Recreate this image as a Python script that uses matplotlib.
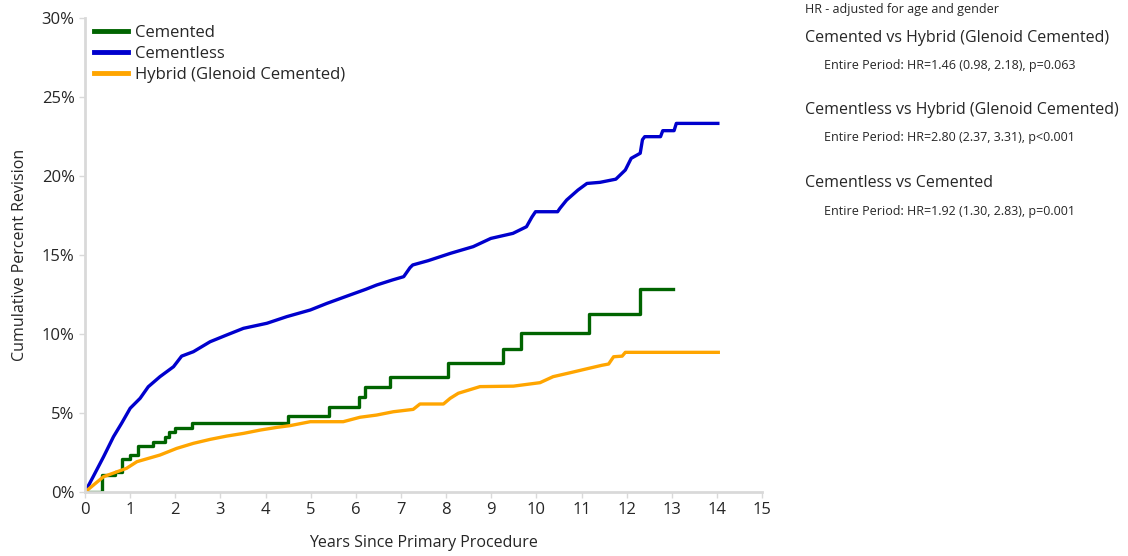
import matplotlib
matplotlib.use("Agg")
import matplotlib.pyplot as plt
from matplotlib.ticker import FuncFormatter

plt.rcParams['font.family'] = ['Open Sans', 'DejaVu Sans']

# Cemented (step function)
cem_x = [0, 0.37, 0.66, 0.81, 1.0, 1.18, 1.51, 1.77, 1.85, 2.0, 2.38, 4.50, 5.41, 6.06, 6.20, 6.76,
         8.05, 9.27, 9.66, 11.17, 12.29, 13.02]
cem_y = [0, 1.07, 1.28, 2.09, 2.34, 2.93, 3.14, 3.50, 3.78, 4.07, 4.35, 4.81, 5.36, 5.99, 6.63, 7.30,
         8.15, 9.07, 10.08, 11.27, 12.85, 12.85]

# Cementless (dense small steps, traced as a polyline)
cl_x = [0, 0.18, 0.41, 0.63, 0.81, 1.0, 1.22, 1.4, 1.66, 1.96, 2.14, 2.4, 2.77, 3.14, 3.51, 4.03,
        4.47, 4.99, 5.36, 5.87, 6.22, 6.46, 6.81, 7.06, 7.2, 7.26, 7.6, 8.1, 8.6, 8.99, 9.48, 9.78,
        9.9, 9.98, 10.47, 10.52, 10.67, 10.92, 11.12, 11.41, 11.76, 11.97, 12.1, 12.3, 12.35, 12.4,
        12.75, 12.8, 13.05, 13.1, 14.02]
cl_y = [0, 0.97, 2.23, 3.5, 4.35, 5.3, 5.93, 6.66, 7.3, 7.93, 8.6, 8.88, 9.51, 9.94, 10.36, 10.68,
        11.1, 11.52, 11.94, 12.47, 12.83, 13.1, 13.42, 13.63, 14.2, 14.37, 14.64, 15.11, 15.53, 16.05,
        16.37, 16.79, 17.4, 17.74, 17.74, 17.95, 18.48, 19.11, 19.53, 19.6, 19.8, 20.38, 21.12, 21.44,
        22.3, 22.49, 22.49, 22.87, 22.87, 23.33, 23.33]

# Hybrid (Glenoid Cemented)
hy_x = [0, 0.41, 0.92, 1.15, 1.66, 2.03, 2.40, 2.77, 3.14, 3.51, 3.88, 4.25, 4.54, 4.99, 5.72, 6.09,
        6.46, 6.83, 7.27, 7.42, 7.94, 8.09, 8.27, 8.75, 9.49, 10.08, 10.37, 10.75, 11.12, 11.45, 11.6,
        11.71, 11.9, 11.97, 14.03]
hy_y = [0, 0.97, 1.5, 1.92, 2.34, 2.76, 3.08, 3.33, 3.54, 3.71, 3.92, 4.09, 4.2, 4.45, 4.45, 4.73,
        4.87, 5.08, 5.23, 5.57, 5.57, 5.93, 6.25, 6.67, 6.7, 6.92, 7.3, 7.55, 7.8, 8.02, 8.1,
        8.56, 8.6, 8.84, 8.84]

x_ticks = list(range(0, 16))
y_ticks = [0, 5, 10, 15, 20, 25, 30]

fig = plt.figure(figsize=(11.28, 5.56), dpi=100)
ax = fig.add_axes([0.0754, 0.1151, 0.6002, 0.8525])

ax.plot(cem_x, cem_y, drawstyle='steps-post', color='#006400', lw=2.4, label='Cemented')
ax.plot(cl_x, cl_y, color='#0000CD', lw=2.4, label='Cementless')
ax.plot(hy_x, hy_y, color='#FFA500', lw=2.4, label='Hybrid (Glenoid Cemented)')

ax.set_xlim(0, 15)
ax.set_ylim(0, 30)
ax.set_xticks(x_ticks)
ax.set_yticks(y_ticks)
ax.yaxis.set_major_formatter(FuncFormatter(lambda v, p: f"{int(v)}%"))
for s in ['top', 'right']:
    ax.spines[s].set_visible(False)
for s in ['left', 'bottom']:
    ax.spines[s].set_color('#d9d9d9')
    ax.spines[s].set_linewidth(2)
ax.tick_params(axis='both', colors='#d9d9d9', labelcolor='#262626', labelsize=12, length=4, width=1)
ax.set_xlabel('Years Since Primary Procedure', fontsize=11.5, color='#262626', labelpad=12)
ax.set_ylabel('Cumulative Percent Revision', fontsize=11.5, color='#262626', labelpad=10)

leg = ax.legend(loc='upper left', bbox_to_anchor=(0.004, 0.999), frameon=False, fontsize=12,
                handlelength=2.0, handletextpad=0.42, labelspacing=0.3, borderaxespad=0.0)
for t in leg.get_texts():
    t.set_color('#262626')
for l in leg.get_lines():
    l.set_linewidth(3.5)

def px(x, y):
    return x / 1128, 1 - y / 556

fig.text(*px(805, 9), 'HR - adjusted for age and gender', fontsize=9, color='#262626', va='center')
groups = [
    ('Cemented vs Hybrid (Glenoid Cemented)', 'Entire Period: HR=1.46 (0.98, 2.18), p=0.063', 38),
    ('Cementless vs Hybrid (Glenoid Cemented)', 'Entire Period: HR=2.80 (2.37, 3.31), p<0.001', 110),
    ('Cementless vs Cemented', 'Entire Period: HR=1.92 (1.30, 2.83), p=0.001', 183),
]
for title, sub, yy in groups:
    fig.text(*px(805, yy), title, fontsize=11.5, color='#262626', va='center')
    fig.text(*px(824, yy + 28), sub, fontsize=9, color='#262626', va='center')

fig.savefig('out.png', dpi=100)
